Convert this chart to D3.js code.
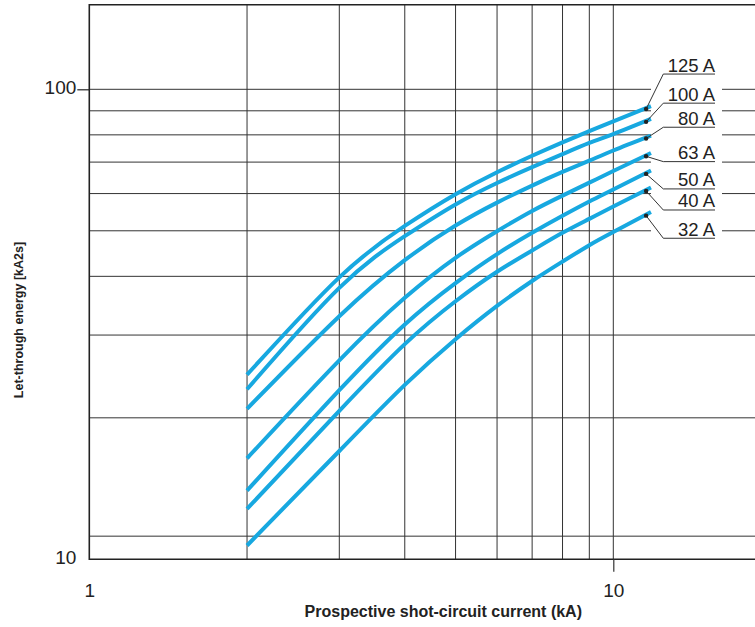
<!DOCTYPE html>
<html><head><meta charset="utf-8">
<script src="https://cdn.jsdelivr.net/npm/d3@7"></script>
<style>html,body{margin:0;padding:0;background:#fff}svg{display:block}</style>
</head><body><svg id="c" width="755" height="627"></svg>
<script>
// ---------------- data ----------------
const currents = [2, 3, 4, 5, 6, 7, 8, 9, 10, 11.8];   // prospective current (kA)
const ratings = ["125 A", "100 A", "80 A", "63 A", "50 A", "40 A", "32 A"];
const energy125A = [24.7, 39.8, 51.2, 59.8, 66.6, 72.2, 77.1, 81.5, 85.5, 92.1];
const energy100A = [23.0, 37.8, 48.7, 56.9, 63.2, 68.3, 72.8, 76.9, 80.3, 86.5];
const energy80A  = [20.9, 32.9, 43.3, 51.3, 57.4, 62.4, 66.7, 70.5, 74.1, 79.7];
const energy63A  = [16.4, 26.5, 36.0, 43.8, 49.9, 55.1, 59.4, 63.3, 67.0, 73.2];
const energy50A  = [14.0, 22.9, 31.6, 38.7, 44.6, 49.5, 53.8, 57.7, 61.2, 67.2];
const energy40A  = [12.8, 20.7, 28.7, 35.4, 40.9, 45.4, 49.5, 53.0, 56.3, 61.8];
const energy32A  = [10.7, 17.0, 23.5, 29.4, 34.6, 39.1, 43.0, 46.6, 49.7, 54.8];
const seriesValues = [energy125A, energy100A, energy80A, energy63A, energy50A, energy40A, energy32A];

const xTickValues = [1, 10];
const xTickLabels = ["1", "10"];
const yTickValues = [10, 100];
const yTickLabels = ["10", "100"];
const xGridValues = [2, 3, 4, 5, 6, 7, 8, 9, 10];
const yGridValues = [11.2, 20, 30, 40, 50, 60, 70, 80, 90, 100];
const xTitle = "Prospective shot-circuit current (kA)";
const yTitle = "Let-through energy [kA2s]";

// ---------------- layout ----------------
const W = 755, H = 627;
const left = 89.3, bottom = 559.3, topY = 4.7, decade = 524;
const dotCurrent = 11.55;
const labelDy = [-35, -18.7, -11.3, 5.3, 15, 19, 22.6];
const leaderX = 663.3, labelRight = 715;
const curveColor = "#17a8e0";
const font = "'Liberation Sans', Arial, Helvetica, sans-serif";

const svg = d3.select("#c");
const x = d3.scaleLog().domain([1, 20]).range([left, left + decade * Math.log10(20)]);
const y = d3.scaleLog().domain([10, 100]).range([bottom, bottom - 470]);

// grid
const g = svg.append("g");
g.selectAll("line.v").data(xGridValues).enter().append("line")
  .attr("x1", d => x(d)).attr("x2", d => x(d))
  .attr("y1", topY).attr("y2", bottom)
  .attr("stroke", "#333").attr("stroke-width", 1);
g.selectAll("line.h").data(yGridValues).enter().append("line")
  .attr("x1", left).attr("x2", W)
  .attr("y1", d => y(d)).attr("y2", d => y(d))
  .attr("stroke", "#333").attr("stroke-width", 1);

// white gap for labels
svg.append("rect").attr("x", 651).attr("width", 722 - 651)
  .attr("y", y(100) - 12).attr("height", y(50) - y(100) + 20).attr("fill", "#fff");

// frame
const fr = svg.append("g").attr("stroke", "#222").attr("stroke-width", 1.6);
fr.append("line").attr("x1", left).attr("x2", left).attr("y1", topY - 0.8).attr("y2", bottom + 0.8);
fr.append("line").attr("x1", left).attr("x2", W).attr("y1", topY).attr("y2", topY);
fr.append("line").attr("x1", left).attr("x2", W).attr("y1", bottom).attr("y2", bottom);

// axes
const yAxis = svg.append("g").attr("transform", `translate(${left},0)`)
  .call(d3.axisLeft(y).tickValues(yTickValues).tickSize(12).tickPadding(1)
    .tickFormat((d, i) => yTickLabels[i]));
yAxis.select(".domain").remove();
yAxis.selectAll(".tick line").attr("stroke", "#222").attr("stroke-width", 1.2)
  .attr("display", d => d === 10 ? "none" : null);
yAxis.selectAll(".tick text").attr("font-family", font).attr("font-size", 19)
  .attr("fill", "#222").attr("dy", "0.21em");

const xAxis = svg.append("g").attr("transform", `translate(0,${bottom})`)
  .call(d3.axisBottom(x).tickValues(xTickValues).tickSize(12.5).tickPadding(12)
    .tickFormat((d, i) => xTickLabels[i]));
xAxis.select(".domain").remove();
xAxis.selectAll(".tick line").attr("stroke", "#333").attr("stroke-width", 1.2)
  .attr("display", d => d === 1 ? "none" : null);
xAxis.selectAll(".tick text").attr("font-family", font).attr("font-size", 19).attr("fill", "#222");

// titles
svg.append("text").attr("x", 443.3).attr("y", 617).attr("text-anchor", "middle")
  .attr("font-family", font).attr("font-weight", "bold").attr("font-size", 16)
  .attr("fill", "#222").text(xTitle);
svg.append("text").attr("transform", "translate(22.5,320) rotate(-90)")
  .attr("text-anchor", "middle").attr("font-family", font).attr("font-weight", "bold")
  .attr("font-size", 12.5).attr("fill", "#222").text(yTitle);

// curves
const line = d3.line().x(d => x(d[0])).y(d => y(d[1])).curve(d3.curveNatural);
seriesValues.forEach(vals => {
  svg.append("path").datum(currents.map((c, i) => [c, vals[i]]))
    .attr("d", line).attr("fill", "none").attr("stroke", curveColor)
    .attr("stroke-width", 4).attr("stroke-linecap", "butt");
});

// labels with leaders
seriesValues.forEach((vals, k) => {
  const n = currents.length;
  const lx0 = Math.log10(currents[n - 2]), lx1 = Math.log10(currents[n - 1]);
  const t = (Math.log10(dotCurrent) - lx0) / (lx1 - lx0);
  const lv = Math.log10(vals[n - 2]) + t * (Math.log10(vals[n - 1]) - Math.log10(vals[n - 2]));
  const dx = x(dotCurrent), dy = y(Math.pow(10, lv)) + 1;
  const ly = dy + labelDy[k];
  svg.append("polyline")
    .attr("points", `${dx},${dy} ${leaderX},${ly} ${labelRight},${ly}`)
    .attr("fill", "none").attr("stroke", "#333").attr("stroke-width", 1);
  svg.append("circle").attr("cx", dx).attr("cy", dy).attr("r", 2.2).attr("fill", "#222");
  svg.append("text").attr("x", labelRight).attr("y", ly - 2.5).attr("text-anchor", "end")
    .attr("font-family", font).attr("font-size", 18.5).attr("fill", "#222").text(ratings[k]);
});
</script>
</body></html>
